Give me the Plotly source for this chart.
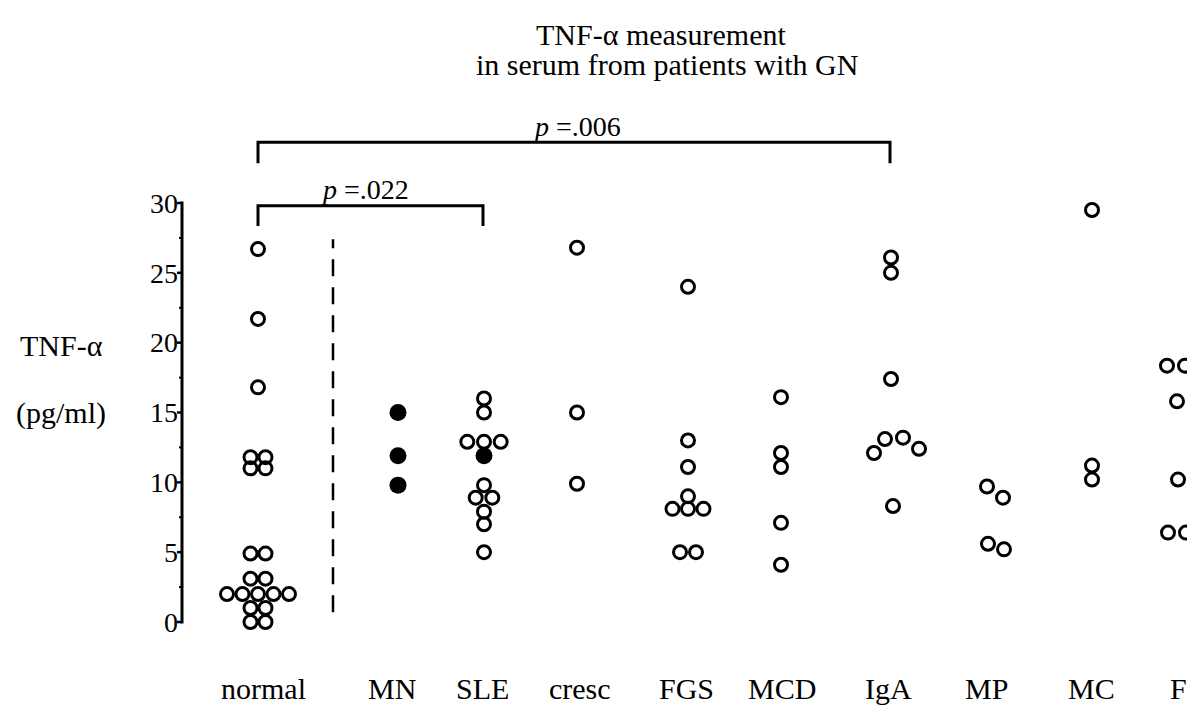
import plotly.graph_objects as go

W, H = 1195, 706          # window size
PAD = 8                   # default page margin around the plot div
WF, HF = W - PAD, H - PAD # figure size so it fits inside the window

# ---------------- data ----------------
categories = ["normal", "MN", "SLE", "cresc", "FGS", "MCD", "IgA", "MP", "MC", "F"]

normal_vals = [26.7, 21.7, 16.8, 11.8, 11.8, 11.0, 11.0, 4.9, 4.9, 3.1, 3.1,
               2.0, 2.0, 2.0, 2.0, 2.0, 1.0, 1.0, 0.0, 0.0]
mn_filled = [15.0, 11.9, 9.8]
sle_open = [16.0, 15.0, 12.9, 12.9, 12.9, 9.8, 8.9, 8.9, 7.9, 7.0, 5.0]
sle_filled = [11.9]
cresc_vals = [26.8, 15.0, 9.9]
fgs_vals = [24.0, 13.0, 11.1, 9.0, 8.1, 8.1, 8.1, 5.0, 5.0]
mcd_vals = [16.1, 12.1, 11.1, 7.1, 4.1]
iga_vals = [26.1, 25.0, 17.4, 12.1, 13.1, 13.2, 12.4, 8.3]
mp_vals = [9.7, 8.9, 5.6, 5.2]
mc_vals = [29.5, 11.2, 10.2]
f_vals = [18.35, 18.35, 15.8, 10.2, 6.4, 6.4]

y_ticks = [0, 5, 10, 15, 20, 25, 30]
y_minor = [2.5, 7.5, 12.5, 17.5, 22.5, 27.5]
p_labels = ["<i>p</i> =.022", "<i>p</i> =.006"]

# ---------------- layout positions (x axis runs in reference-pixel units) ----------------
cat_x = [258, 398, 484, 577, 688, 781, 891, 995, 1092, 1177]
label_x = [263, 392, 482, 580, 686, 782, 888, 986, 1091, 1178]

normal_off = [0, 0, 0, -7.5, 7.5, -7.5, 7.5, -7.5, 7.5, -7.5, 7.5,
              -31, -15.5, 0, 15.5, 31, -7.5, 7.5, -7.5, 7.5]
mn_off = [0, 0, 0]
sle_open_off = [0, 0, -16.7, 0, 16.7, 0, -8.3, 8.3, 0, 0, 0]
sle_filled_off = [0]
cresc_off = [0, 0, 0]
fgs_off = [0, 0, 0, 0, -15.5, 0, 15.5, -8, 8]
mcd_off = [0, 0, 0, 0, 0]
iga_off = [0, 0, 0, -17, -6, 12, 28, 2]
mp_off = [-8, 8, -7, 9]
mc_off = [0, 0, 0]
f_off = [-10, 8, 0, 1, -9, 9]

open_groups = [
    (0, normal_vals, normal_off),
    (2, sle_open, sle_open_off),
    (3, cresc_vals, cresc_off),
    (4, fgs_vals, fgs_off),
    (5, mcd_vals, mcd_off),
    (6, iga_vals, iga_off),
    (7, mp_vals, mp_off),
    (8, mc_vals, mc_off),
    (9, f_vals, f_off),
]
filled_groups = [
    (1, mn_filled, mn_off),
    (2, sle_filled, sle_filled_off),
]

# axis geometry (reference pixels)
px_left = 182
py_zero, py_thirty = 622, 203
unit = (py_zero - py_thirty) / 30.0
y_min = -(H - py_zero) / unit
y_max = (py_zero - PAD) / unit


def xp(px):
    return (px - PAD) / WF


def yp(py):
    return 1 - (py - PAD) / HF


FONT = "Liberation Serif, Times New Roman, serif"
BLACK = "black"

fig = go.Figure()

for ci, vals, offs in open_groups:
    fig.add_trace(go.Scatter(
        x=[cat_x[ci] + o for o in offs], y=vals, mode="markers",
        marker=dict(symbol="circle-open", size=13, color=BLACK,
                    line=dict(width=3, color=BLACK)),
        showlegend=False, hoverinfo="skip", cliponaxis=False))

for ci, vals, offs in filled_groups:
    fig.add_trace(go.Scatter(
        x=[cat_x[ci] + o for o in offs], y=vals, mode="markers",
        marker=dict(symbol="circle", size=17, color=BLACK, line=dict(width=0)),
        showlegend=False, hoverinfo="skip", cliponaxis=False))

shapes = []
# axis line (0 to 30 only)
shapes.append(dict(type="line", xref="paper", yref="y", x0=xp(px_left), x1=xp(px_left),
                   y0=-0.1, y1=30.1, line=dict(color=BLACK, width=3)))
# major ticks
for v in y_ticks:
    shapes.append(dict(type="line", xref="paper", yref="y", x0=xp(px_left - 5), x1=xp(px_left),
                       y0=v, y1=v, line=dict(color=BLACK, width=2.5)))
# minor ticks
for v in y_minor:
    shapes.append(dict(type="line", xref="paper", yref="y", x0=xp(px_left - 3), x1=xp(px_left),
                       y0=v, y1=v, line=dict(color=BLACK, width=2)))
# dashed separator
shapes.append(dict(type="line", xref="x", yref="y", x0=333, x1=333,
                   y0=0.7, y1=27.4, line=dict(color=BLACK, width=2.5, dash="17px,11px")))
# significance brackets
brackets = [(0, 2, 29.8, 28.35), (0, 6, 34.35, 32.85)]
for a, b, ytop, ybot in brackets:
    xa, xb = cat_x[a], cat_x[b] - 1
    shapes.append(dict(type="path", xref="x", yref="y",
                       path=f"M {xa},{ybot} L {xa},{ytop} L {xb},{ytop} L {xb},{ybot}",
                       line=dict(color=BLACK, width=3)))

annotations = []
p_pos = [(365, 30.95), (577, 35.45)]
for txt, (x, y) in zip(p_labels, p_pos):
    annotations.append(dict(text=txt, x=x, y=y, xref="x", yref="y", showarrow=False,
                            font=dict(family=FONT, size=28, color=BLACK),
                            xanchor="center", yanchor="middle"))
for lab, x in zip(categories, label_x):
    annotations.append(dict(text=lab, x=x, y=yp(688), xref="x", yref="paper",
                            showarrow=False, xanchor="center", yanchor="middle",
                            font=dict(family=FONT, size=30, color=BLACK)))
annotations.append(dict(text="TNF-\u03b1 measurement", x=xp(661), y=yp(34),
                        xref="paper", yref="paper", showarrow=False,
                        xanchor="center", yanchor="middle",
                        font=dict(family=FONT, size=30, color=BLACK)))
annotations.append(dict(text="in serum from patients with GN", x=xp(667), y=yp(65),
                        xref="paper", yref="paper", showarrow=False,
                        xanchor="center", yanchor="middle",
                        font=dict(family=FONT, size=30, color=BLACK)))
annotations.append(dict(text="TNF-\u03b1", x=xp(61), y=yp(345), xref="paper", yref="paper",
                        showarrow=False, xanchor="center", yanchor="middle",
                        font=dict(family=FONT, size=30, color=BLACK)))
annotations.append(dict(text="(pg/ml)", x=xp(61), y=yp(413), xref="paper", yref="paper",
                        showarrow=False, xanchor="center", yanchor="middle",
                        font=dict(family=FONT, size=30, color=BLACK)))

fig.update_layout(
    width=WF, height=HF,
    margin=dict(l=0, r=0, t=0, b=0),
    paper_bgcolor="white", plot_bgcolor="white",
    xaxis=dict(domain=[xp(px_left), 1], range=[px_left, W], visible=False, fixedrange=True),
    yaxis=dict(range=[y_min, y_max], showgrid=False, zeroline=False, showline=False,
               tickmode="array", tickvals=y_ticks, ticktext=[str(t) for t in y_ticks],
               ticks="", ticklabelstandoff=3,
               tickfont=dict(family=FONT, size=28, color=BLACK),
               automargin=False, fixedrange=True),
    shapes=shapes, annotations=annotations,
    showlegend=False,
)

fig.write_html("out.html")
